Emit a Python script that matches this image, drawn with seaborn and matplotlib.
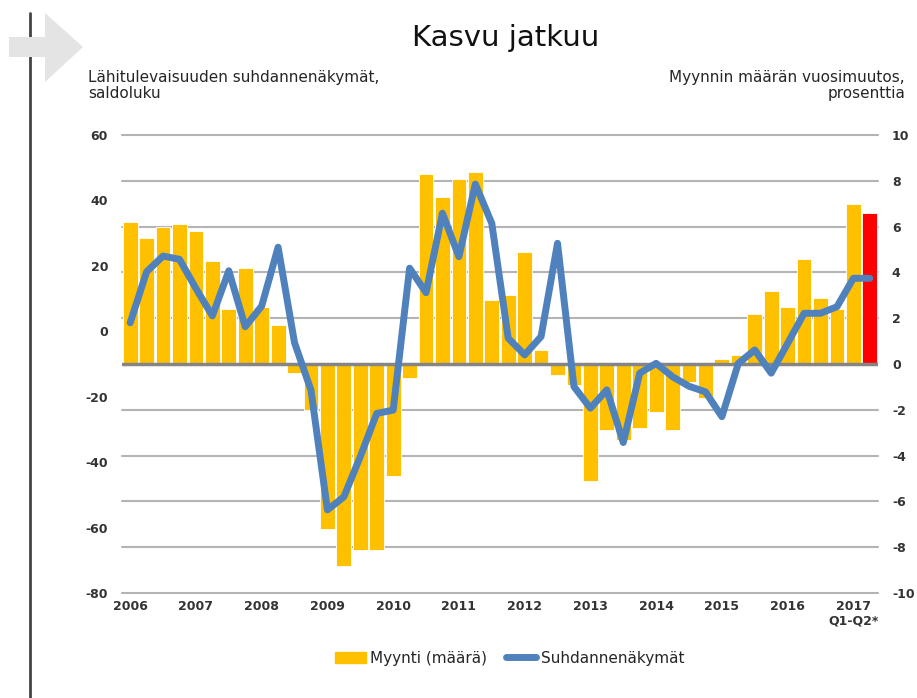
import numpy as np
import pandas as pd
import seaborn as sns
import matplotlib.pyplot as plt
from matplotlib.patches import Polygon
from matplotlib.lines import Line2D

# quarterly data 2006Q1 .. 2017Q2
sales = [6.2, 5.5, 6.0, 6.1, 5.8, 4.5, 2.4, 4.2, 2.5, 1.7,
         -0.4, -2.0, -7.2, -8.8, -8.1, -8.1, -4.9, -0.6, 8.3, 7.3,
         8.1, 8.4, 2.8, 3.0, 4.9, 0.6, -0.5, -0.9, -5.1, -2.9,
         -3.3, -2.8, -2.1, -2.9, -0.8, -1.5, 0.2, 0.4, 2.2, 3.2,
         2.5, 4.6, 2.9, 2.4, 7.0, 6.6]
outlook = [2.6, 18.2, 23.0, 22.0, 13.1, 4.7, 18.5, 1.4, 7.7, 25.7,
           -3.5, -18.0, -54.6, -50.6, -38.3, -25.1, -24.1, 19.3, 11.8, 36.1,
           22.8, 45.0, 33.0, -2.1, -7.2, -1.6, 26.9, -16.9, -23.5, -17.9,
           -34.0, -12.8, -9.8, -13.9, -16.8, -18.5, -26.1, -9.8, -5.7, -12.8,
           -3.7, 5.5, 5.5, 7.5, 16.2, 16.2]
year_labels = ['2006', '2007', '2008', '2009', '2010', '2011', '2012',
               '2013', '2014', '2015', '2016', '2017\nQ1-Q2*']

df = pd.DataFrame({'q': np.arange(len(sales)), 'sales': sales, 'outlook': outlook})
bar_colors = ['#FFC000'] * (len(sales) - 1) + ['#FF0000']

sns.set_style('white')
plt.rcParams['axes.unicode_minus'] = False
narrow = ['Liberation Sans Narrow', 'DejaVu Sans Condensed', 'DejaVu Sans']

fig = plt.figure(figsize=(9.17, 6.98), dpi=100)
ax = fig.add_axes([0.133, 0.1504, 0.8245, 0.6562])

# bars: sales volume change, right-hand scale
sns.barplot(data=df, x='q', y='sales', hue='q', palette=bar_colors, legend=False,
            width=0.9, edgecolor='white', linewidth=0.6, saturation=1, ax=ax, zorder=2)
ax.set_ylim(-10, 10)
ax.set_xlim(-0.5, len(sales) - 0.5)
ax.set_yticks(range(-10, 11, 2))
for v in range(-10, 11, 2):
    if v != 0:
        ax.axhline(v, color='#b4b4b4', lw=1.5, zorder=0, clip_on=False)
ax.axhline(0, color='#858585', lw=2.5, zorder=3)
ax.set_xticks(range(0, len(sales), 4))
ax.set_xticklabels(year_labels)
ax.set_xlabel('')
ax.set_ylabel('')
sns.despine(ax=ax, left=True, right=True, top=True, bottom=True)

# line: business outlook, left-hand scale
ax2 = ax.twinx()
sns.lineplot(data=df, x='q', y='outlook', color='#4F81BD', lw=5, ax=ax2, zorder=4)
ax2.set_ylim(-80, 60)
ax2.set_yticks(range(-80, 61, 20))
ax2.set_ylabel('')
sns.despine(ax=ax2, left=True, right=True, top=True, bottom=True)

# swap sides: percent scale right, balance scale left
ax.yaxis.tick_right()
ax2.yaxis.tick_left()
ax.tick_params(length=0, labelsize=9, labelcolor='#333333')
ax.tick_params(axis='y', pad=10)
ax.tick_params(axis='x', pad=5)
ax2.tick_params(length=0, pad=10, labelsize=9, labelcolor='#333333')
for lab in ax.get_xticklabels() + ax.get_yticklabels() + ax2.get_yticklabels():
    lab.set_fontweight('bold')

fig.text(0.551, 0.945, 'Kasvu jatkuu', ha='center', va='center', fontsize=21,
         family=narrow, color='#111111')
fig.text(0.096, 0.878, 'Lähitulevaisuuden suhdannenäkymät,\nsaldoluku', ha='left',
         va='center', fontsize=11, family=narrow, linespacing=1.1)
fig.text(0.987, 0.878, 'Myynnin määrän vuosimuutos,\nprosenttia', ha='right',
         va='center', fontsize=11, family=narrow, linespacing=1.1, multialignment='right')

# decoration: vertical rule and grey arrow
fig.add_artist(Line2D([0.033, 0.033], [0.0, 0.981], color='#444444', lw=2, zorder=1))
arrow = [(9, 37), (45, 37), (45, 13), (83, 47), (45, 82), (45, 57), (9, 57)]
fig.add_artist(Polygon([(x / 917, 1 - y / 698) for x, y in arrow], closed=True,
                       facecolor='#e4e4e4', edgecolor='none', zorder=2))

handles = [plt.Rectangle((0, 0), 1, 0.35, color='#FFC000'),
           Line2D([0], [0], color='#4F81BD', lw=5)]
fig.legend(handles, ['Myynti (määrä)', 'Suhdannenäkymät'], loc='center',
           bbox_to_anchor=(0.556, 0.057), ncol=2, frameon=False, fontsize=11,
           handlelength=2.0, handletextpad=0.3, columnspacing=1.2)

fig.savefig('out.png', dpi=100)
